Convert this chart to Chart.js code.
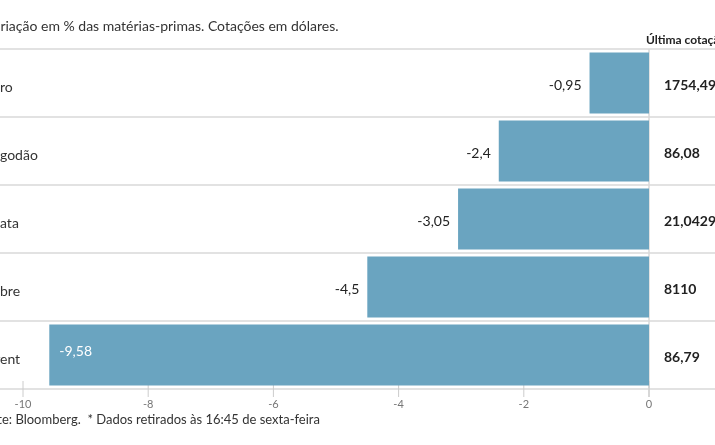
<!DOCTYPE html>
<html><head><meta charset="utf-8">
<script src="https://cdn.jsdelivr.net/npm/chart.js@4"></script>
<style>html,body{margin:0;padding:0;background:#fff}#wrap{width:715px;height:445px}</style>
</head><body><div id="wrap"><canvas id="c"></canvas></div>
<script>
const categories = ["Ouro", "Algodão", "Prata", "Cobre", "Brent"];
const changes = [-0.95, -2.4, -3.05, -4.5, -9.58];
const lastQuotes = ["1754,49", "86,08", "21,0429", "8110", "86,79"];
const xTicks = [-10, -8, -6, -4, -2, 0];
const title = "Variação em % das matérias-primas. Cotações em dólares.";
const quoteHeader = "Última cotação*";
const source = "Fonte: Bloomberg.  * Dados retirados às 16:45 de sexta-feira";
const FONT = "Lato, 'Open Sans', sans-serif";
const fmt = v => String(v).replace('.', ',');

const textPlugin = {
  id: 'texts',
  beforeDatasetsDraw(chart) {
    const {ctx, chartArea: a, scales: {x, y}} = chart;
    ctx.save();
    ctx.strokeStyle = '#d8d8d8'; ctx.lineWidth = 1.5;
    for (let i = 0; i <= categories.length; i++) {
      const py = i < categories.length ? y.getPixelForValue(i) - (y.getPixelForValue(1) - y.getPixelForValue(0)) / 2
                                       : y.getPixelForValue(categories.length - 1) + (y.getPixelForValue(1) - y.getPixelForValue(0)) / 2;
      ctx.beginPath(); ctx.moveTo(0, py); ctx.lineTo(715, py); ctx.stroke();
    }
    const x0 = x.getPixelForValue(0);
    ctx.beginPath(); ctx.moveTo(x0, a.top); ctx.lineTo(x0, a.bottom + 8); ctx.stroke();
    ctx.strokeStyle = '#cccccc'; ctx.lineWidth = 1;
    xTicks.forEach(t => { const px = x.getPixelForValue(t); ctx.beginPath(); ctx.moveTo(px, a.bottom - 8); ctx.lineTo(px, a.bottom + 8); ctx.stroke(); });
    ctx.restore();
  },
  afterDatasetsDraw(chart) {
    const {ctx, chartArea: a, scales: {x, y}} = chart;
    ctx.save();
    ctx.textBaseline = 'middle';
    ctx.fillStyle = '#333'; ctx.font = `14px ${FONT}`; ctx.textAlign = 'left';
    ctx.fillText(title, -15, 26);
    ctx.font = `bold 12px ${FONT}`; ctx.fillStyle = '#222';
    ctx.fillText(quoteHeader, 646, 40);
    ctx.font = `13px ${FONT}`; ctx.fillStyle = '#333';
    ctx.fillText(source, -24, 420);
    ctx.fillStyle = '#777'; ctx.font = `11px ${FONT}`; ctx.textAlign = 'center';
    xTicks.forEach(t => ctx.fillText(String(t), x.getPixelForValue(t), a.bottom + 15));
    categories.forEach((c, i) => {
      const py = y.getPixelForValue(i);
      ctx.textAlign = 'left'; ctx.font = `14px ${FONT}`; ctx.fillStyle = '#333';
      const labelY = py + 4;
      const w = ctx.measureText(c).width;
      const suffix = {Ouro: 'ro', 'Algodão': 'godão', Prata: 'ata', Cobre: 'bre', Brent: 'ent'}[c];
      const sw = ctx.measureText(suffix).width;
      ctx.fillText(c, -(w - sw), labelY);
      const v = changes[i], px = x.getPixelForValue(v);
      if (v < -9) { ctx.fillStyle = '#fff'; ctx.textAlign = 'left'; ctx.fillText(fmt(v), px + 10, py - 4); }
      else { ctx.fillStyle = '#222'; ctx.textAlign = 'right'; ctx.fillText(fmt(v), px - 8, py + 2); }
      ctx.fillStyle = '#222'; ctx.textAlign = 'left'; ctx.font = `bold 14px ${FONT}`;
      ctx.fillText(lastQuotes[i], 664, py + 2);
    });
    ctx.restore();
  }
};

new Chart(document.getElementById('c'), {
  type: 'bar',
  data: { labels: categories, datasets: [{ data: changes, backgroundColor: '#6aa4c0', borderWidth: 0, barPercentage: 0.9, categoryPercentage: 1 }] },
  options: {
    indexAxis: 'y', responsive: true, maintainAspectRatio: false, animation: false,
    layout: { padding: { left: 23, right: 66, top: 49, bottom: 56 } },
    plugins: { legend: { display: false }, tooltip: { enabled: false } },
    scales: {
      x: { display: false, min: -10, max: 0 },
      y: { display: false }
    }
  },
  plugins: [textPlugin]
});
</script></body></html>
